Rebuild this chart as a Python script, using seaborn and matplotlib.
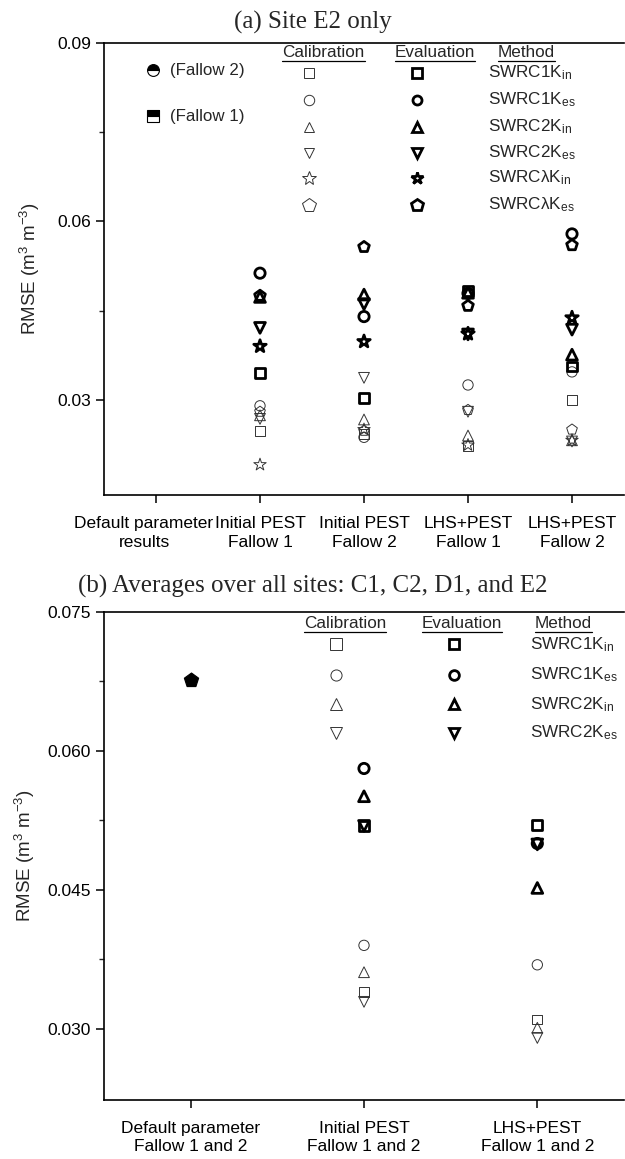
import numpy as np
import pandas as pd
import matplotlib
matplotlib.use("Agg")
import matplotlib.pyplot as plt
import matplotlib.transforms as mtransforms
import seaborn as sns

sns.set_theme(style="ticks")
plt.rcParams["font.family"] = ["Liberation Sans", "DejaVu Sans"]
plt.rcParams["mathtext.fontset"] = "custom"
plt.rcParams["mathtext.rm"] = "Liberation Sans"
plt.rcParams["mathtext.it"] = "Liberation Sans:italic"
plt.rcParams["mathtext.default"] = "regular"

# ---------------- data ----------------
methods_a = ["SWRC1Kin", "SWRC1Kes", "SWRC2Kin", "SWRC2Kes", "SWRClKin", "SWRClKes"]
method_labels_a = [r"SWRC1K$_{in}$", r"SWRC1K$_{es}$", r"SWRC2K$_{in}$",
                   r"SWRC2K$_{es}$", r"SWRCλK$_{in}$", r"SWRCλK$_{es}$"]
markers_a = ["s", "o", "^", "v", "*", "p"]

cats_a = ["Default parameter\nresults", "Initial PEST\nFallow 1", "Initial PEST\nFallow 2",
          "LHS+PEST\nFallow 1", "LHS+PEST\nFallow 2"]
# values listed in method order (1Kin, 1Kes, 2Kin, 2Kes, λKin, λKes)
a_init_f1_cal = [0.0247, 0.0290, 0.0274, 0.0268, 0.0191, 0.0280]
a_init_f1_eval = [0.0345, 0.0513, 0.0473, 0.0421, 0.0390, 0.0475]
a_init_f2_cal = [0.0243, 0.0237, 0.0267, 0.0337, 0.0250, 0.0248]
a_init_f2_eval = [0.0303, 0.0440, 0.0477, 0.0461, 0.0398, 0.0557]
a_lhs_f1_cal = [0.0222, 0.0325, 0.0240, 0.0280, 0.0224, 0.0283]
a_lhs_f1_eval = [0.0483, 0.0479, 0.0480, 0.0410, 0.0411, 0.0458]
a_lhs_f2_cal = [0.0300, 0.0347, 0.0232, 0.0230, 0.0232, 0.0250]
a_lhs_f2_eval = [0.0356, 0.0579, 0.0376, 0.0418, 0.0438, 0.0560]

methods_b = ["SWRC1Kin", "SWRC1Kes", "SWRC2Kin", "SWRC2Kes"]
method_labels_b = method_labels_a[:4]
markers_b = markers_a[:4]
cats_b = ["Default parameter\nFallow 1 and 2", "Initial PEST\nFallow 1 and 2",
          "LHS+PEST\nFallow 1 and 2"]
b_default = [0.0677]
b_init_cal = [0.0340, 0.0390, 0.0361, 0.0329]
b_init_eval = [0.0519, 0.0581, 0.0551, 0.0519]
b_lhs_cal = [0.0310, 0.0369, 0.0301, 0.0290]
b_lhs_eval = [0.0520, 0.0500, 0.0452, 0.0499]

# ---------------- long tables ----------------
rows = []
for cat, cal, ev in [(1, a_init_f1_cal, a_init_f1_eval), (2, a_init_f2_cal, a_init_f2_eval),
                     (3, a_lhs_f1_cal, a_lhs_f1_eval), (4, a_lhs_f2_cal, a_lhs_f2_eval)]:
    for m, v in zip(methods_a, cal):
        rows.append(dict(pos=cat, method=m, kind="Calibration", rmse=v))
    for m, v in zip(methods_a, ev):
        rows.append(dict(pos=cat, method=m, kind="Evaluation", rmse=v))
df_a = pd.DataFrame(rows)

rows = []
for cat, cal, ev in [(1, b_init_cal, b_init_eval), (2, b_lhs_cal, b_lhs_eval)]:
    for m, v in zip(methods_b, cal):
        rows.append(dict(pos=cat, method=m, kind="Calibration", rmse=v))
    for m, v in zip(methods_b, ev):
        rows.append(dict(pos=cat, method=m, kind="Evaluation", rmse=v))
df_b = pd.DataFrame(rows)
df_b_def = pd.DataFrame(dict(pos=[0], rmse=b_default))

msize = {"s": 50, "o": 55, "^": 60, "v": 60, "*": 88, "p": 65}
lw_kind = {"Calibration": 0.7, "Evaluation": 2.0}
ec_kind = {"Calibration": "#333333", "Evaluation": "black"}

W, H = 625, 1159
fig = plt.figure(figsize=(W / 100, H / 100), dpi=100)
ax1 = fig.add_axes([104 / W, 1 - 495 / H, 0.832, (495 - 43) / H])
ax2 = fig.add_axes([104 / W, 1 - 1100 / H, 0.832, (1100 - 612) / H])


def draw_points(ax, df, methods, markers):
    for kind in ["Calibration", "Evaluation"]:
        for m, mk in zip(methods, markers):
            sub = df[(df.kind == kind) & (df.method == m)]
            sns.scatterplot(data=sub, x="pos", y="rmse", ax=ax, marker=mk, s=msize[mk],
                            facecolor="none", edgecolor=ec_kind[kind],
                            linewidth=lw_kind[kind], legend=False, zorder=3)


draw_points(ax1, df_a, methods_a, markers_a)
draw_points(ax2, df_b, methods_b, markers_b)
sns.scatterplot(data=df_b_def, x="pos", y="rmse", ax=ax2, marker="p", s=115,
                color="black", edgecolor="black", legend=False, zorder=3)

tick_fs = 12.5
for ax in (ax1, ax2):
    ax.set_xlabel("")
    ax.set_ylabel(r"RMSE (m$^3$ m$^{-3}$)", fontsize=13.5)
    for s in ["left", "bottom", "top"]:
        ax.spines[s].set_linewidth(1.2)
        ax.spines[s].set_color("black")
    ax.spines["right"].set_visible(False)
    ax.tick_params(axis="both", which="major", direction="out", length=6, width=1.1,
                   labelsize=tick_fs, colors="black")
    ax.tick_params(axis="x", which="major", pad=9)
    ax.tick_params(axis="y", which="minor", direction="out", length=3.5, width=1.0)
    ax.tick_params(axis="x", which="minor", length=0)

ax1.set_ylim(0.014, 0.09)
ax1.set_xticks(range(5))
ax1.set_xlim(-0.5, 4.5)
ax1.set_xticklabels(cats_a, fontsize=tick_fs, linespacing=1.35)
ax1.set_yticks([0.03, 0.06, 0.09])
ax1.set_yticklabels(["0.03", "0.06", "0.09"])
ax1.set_yticks([0.045, 0.075], minor=True)
ax1.yaxis.set_label_coords(-0.119, 0.5)

ax2.set_xticks(range(3))
ax2.set_xlim(-0.5, 2.5)
ax2.set_xticklabels(cats_b, fontsize=tick_fs, linespacing=1.3)
ax2.set_ylim(0.0223, 0.075)
ax2.set_yticks([0.030, 0.045, 0.060, 0.075])
ax2.set_yticklabels(["0.030", "0.045", "0.060", "0.075"])
ax2.set_yticks([0.0375, 0.0525, 0.0675], minor=True)
ax2.yaxis.set_label_coords(-0.128, 0.5)

# first label of panel (a) sits a little to the left of its tick
lab0 = ax1.get_xticklabels()[0]
lab0.set_transform(lab0.get_transform() +
                   mtransforms.ScaledTranslation(-12 / 100, 0, fig.dpi_scale_trans))

fig.text(0.5, 1 - 29 / H, "(a) Site E2 only", ha="center", va="baseline",
         fontsize=18, family="Liberation Serif")
fig.text(0.5, 1 - 593 / H, "(b) Averages over all sites: C1, C2, D1, and E2",
         ha="center", va="baseline", fontsize=18, family="Liberation Serif")

# ---------------- custom key ----------------
headers = []


def key(ax, xc_cal, xc_eval, xm, hx, hy, rows_y, labels, mks, fs, msz):
    for name, x in zip(["Calibration", "Evaluation", "Method"], hx):
        t = ax.text(x, hy, name, transform=ax.transAxes, ha="center", va="center", fontsize=fs)
        headers.append((ax, t))
    for y, lab, mk in zip(rows_y, labels, mks):
        extra = 2.5 if mk in ("*", "p") else 0
        ax.plot([xc_cal], [y], transform=ax.transAxes, marker=mk, ms=msz + extra,
                mfc="none", mec="#333333", mew=0.7, ls="none", clip_on=False)
        ax.plot([xc_eval], [y], transform=ax.transAxes, marker=mk, ms=msz - 1 + extra,
                mfc="none", mec="black", mew=2.0, ls="none", clip_on=False)
        ax.text(xm, y, lab, transform=ax.transAxes, ha="left", va="center", fontsize=fs)


rows_a = [0.934, 0.874, 0.814, 0.757, 0.701, 0.642]
key(ax1, 0.395, 0.601, 0.739, [0.422, 0.637, 0.812], 0.978, rows_a,
    method_labels_a, markers_a, 12.3, 7.5)
rows_b = [0.934, 0.871, 0.811, 0.752]
key(ax2, 0.447, 0.674, 0.820, [0.463, 0.689, 0.884], 0.977, rows_b,
    method_labels_b, markers_b, 12.3, 8)

ax1.plot([0.094], [0.940], transform=ax1.transAxes, marker="o", ms=8.5, fillstyle="top",
         mfc="black", mfcalt="white", mec="black", mew=0.8, ls="none")
ax1.plot([0.094], [0.838], transform=ax1.transAxes, marker="s", ms=8, fillstyle="top",
         mfc="black", mfcalt="white", mec="black", mew=0.8, ls="none")
ax1.text(0.127, 0.940, "(Fallow 2)", transform=ax1.transAxes, va="center", fontsize=12.2)
ax1.text(0.127, 0.838, "(Fallow 1)", transform=ax1.transAxes, va="center", fontsize=12.2)

fig.canvas.draw()
for ax, t in headers:
    bb = t.get_window_extent()
    inv = ax.transAxes.inverted()
    (x0, y0), (x1, y1) = inv.transform([[bb.x0, bb.y0 - 1], [bb.x1, bb.y0 - 1]])
    ax.plot([x0, x1], [y0, y1], transform=ax.transAxes, color="black", lw=0.9)

fig.savefig("out.png", dpi=100)
